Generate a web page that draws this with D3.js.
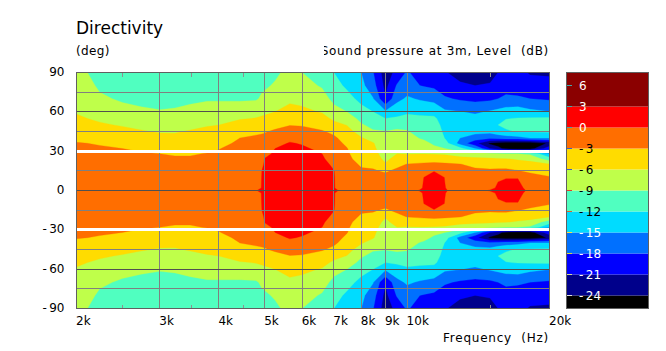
<!DOCTYPE html>
<html><head><meta charset="utf-8">
<script src="https://cdn.jsdelivr.net/npm/d3@7/dist/d3.min.js"></script>
<style>
html,body{margin:0;padding:0;background:#fff}
svg{display:block}
text{font-family:"DejaVu Sans",Verdana,sans-serif;font-size:12px;fill:#000}
</style></head><body>
<svg id="c" width="666" height="351"></svg>
<script>
const title = "Directivity";
const yUnit = "(deg)";
const zTitle = "Sound pressure at 3m, Level  (dB)";
const xTitle = "Frequency  (Hz)";
const xTicks = [2000,3000,4000,5000,6000,7000,8000,9000,10000,20000];
const xTickLabels = ["2k","3k","4k","5k","6k","7k","8k","9k","10k","20k"];
const xMinorTicks = [2500,3500,4500,15000];
const xGrid = [3000,4000,5000,6000,7000,8000,9000,10000];
const yTicks = [90,60,30,0,-30,-60,-90];
const yGridLight = [75,45,15,-15,-45,-75];
const yGridDark = [60,0,-60];
const yWhite = [30,-30];
const thresholds = [-24,-21,-18,-15,-12,-9,-6,-3,0,3];
const bandColors = ["#00008b","#0000ff","#0070ff","#00dcff","#50ffc0","#bfff4a","#ffdc00","#ff6e00","#ff0000","#8b0000"];
const belowColor = "#000000";
const legendTicks = [6,3,0,-3,-6,-9,-12,-15,-18,-21,-24];
const legendTickColors = ["#3fa9a9","#3fa9a9","#4f9f9f","#3f5fc0","#3f5fc0","#e0402a","#e0602a","#ffe040","#d8d840","#d8d8a0","#e0e0e0"];
const legendLabelColors = ["#fff","#fff","#fff","#000","#000","#000","#000","#fff","#fff","#fff","#fff"];
const legendDomain = [7.857,-25.857];

const freqs = [2000,2110,2240,2500,2740,3000,3230,3480,3780,4000,4430,4790,4930,5000,5260,5650,6000,6610,7000,7460,8000,8470,9000,9520,10000,10640,10860,11400,12020,12940,13920,14970,15570,16180,17150,18200,20000];
const angles = [90,80,70,60,55,50,45,40,36,32,28,24,20,15,10,2,0];
// dB per frequency (one column per entry of freqs), one value per entry of angles; lower half mirrors it
const levels = [
[-8,-7.4,-6.8,-6.2,-5.6,-4.8,-4.1,-3.4,-2.9,-2.6,-2.3,-2,-1.8,-1.6,-1.4,-1.2,-1.2],
[-9,-8.2,-7.3,-6.4,-6,-5.2,-4.5,-3.6,-3,-2.6,-2.3,-2,-1.8,-1.5,-1.3,-1.2,-1.2],
[-10,-9.5,-8.5,-7.1,-6.4,-5.7,-4.9,-3.9,-3.2,-2.7,-2.3,-2,-1.8,-1.5,-1.3,-1.1,-1.1],
[-10.6,-10.2,-9.4,-8,-7,-6.2,-5.3,-4.4,-3.7,-3,-2.6,-2.3,-2,-1.7,-1.4,-1.2,-1.2],
[-11,-10.5,-9.8,-8.5,-7.6,-6.7,-5.8,-4.9,-4.1,-3.4,-2.8,-2.4,-2.1,-1.7,-1.5,-1.2,-1.2],
[-11.2,-10.8,-10,-8.8,-7.9,-7,-6.2,-5.3,-4.5,-3.7,-3,-2.6,-2.3,-1.9,-1.6,-1.3,-1.3],
[-11.2,-10.8,-10,-8.6,-7.8,-7,-6.2,-5.4,-4.7,-4,-3.2,-2.7,-2.3,-1.9,-1.6,-1.3,-1.3],
[-11,-10.5,-9.6,-8.2,-7.5,-6.7,-5.8,-5,-4.4,-3.8,-3.2,-2.7,-2.3,-1.9,-1.6,-1.3,-1.3],
[-10.8,-10.2,-9.3,-7.8,-7,-6.2,-5.4,-4.7,-4.1,-3.5,-2.9,-2.5,-2.2,-1.8,-1.5,-1.2,-1.2],
[-10.8,-10.2,-9.3,-7.7,-6.8,-6,-5.2,-4.4,-3.8,-3.1,-2.7,-2.3,-2,-1.7,-1.4,-1.1,-1.1],
[-10.6,-10.2,-9.4,-7.4,-6.2,-5.1,-4,-3,-2.5,-2.1,-1.8,-1.6,-1.4,-1.2,-1,-.8,-.7],
[-10.3,-10,-9.3,-7,-5.9,-4.7,-3.5,-2.6,-2.1,-1.7,-1.4,-1.2,-1.1,-1.1,-1,-.9,-.1],
[-10,-9.5,-8.6,-6.7,-5.6,-4.5,-3.3,-2.5,-2,-1.5,-1.2,-.9,-.5,0,.05,.1,.4],
[-10,-9.4,-8.3,-6.5,-5.5,-4.3,-3.2,-2.4,-1.9,-1.3,-.5,.1,.3,.5,.6,.7,.8],
[-9.5,-8.7,-7.4,-6,-5,-3.8,-2.6,-1.5,-.8,0,.3,.5,.7,.9,1,1.1,1.2],
[-8.2,-7.5,-6.6,-5,-4.1,-3.1,-2,-.7,.2,.6,.9,1.1,1.3,1.5,1.6,1.7,1.8],
[-9,-8,-6.8,-5.4,-4.4,-3.2,-2.1,-1.1,-.2,.4,.7,1,1.2,1.4,1.5,1.6,1.7],
[-10.5,-9.3,-7.8,-6.2,-5.1,-3.9,-2.8,-1.8,-1.2,-.6,0,.3,.5,.7,.8,1,1.1],
[-12,-11,-9.8,-8,-6.5,-5.2,-3.5,-2.6,-2.2,-1.8,-1.3,-.9,-.3,.05,.1,.1,.5],
[-13.8,-12.5,-11,-9,-7.5,-6.1,-5,-4,-3.4,-2.9,-2.6,-2.3,-2,-1.7,-1.5,-1.2,-1],
[-15,-14.2,-12.8,-11,-9.8,-8.7,-7.2,-5.8,-5.4,-5,-4.6,-4.1,-3.3,-2.7,-2.3,-1.8,-1.6],
[-17.8,-16.8,-14.8,-12,-10.9,-9.8,-8.7,-7,-5.8,-5.5,-5.2,-4.6,-3.7,-2.7,-2.2,-1.7,-1.5],
[-22.7,-21.9,-20.7,-14.5,-12,-10.2,-8.9,-8.3,-7.9,-7.5,-7,-6.6,-5.8,-3.4,-2.1,-1.2,-1],
[-20,-17.7,-15.8,-13.2,-11.6,-9.8,-8.6,-7.9,-7.3,-6.6,-6,-5,-3.8,-2.4,-1.8,-1.2,-1],
[-17.6,-16.5,-14.6,-12.4,-11.3,-9.9,-8.8,-8.2,-7.6,-7,-6.1,-4.6,-2.9,-1.9,-1.2,-.8,-.6],
[-19.5,-18,-15.3,-12.6,-11.5,-10.6,-10,-9.1,-8.2,-7.3,-6.1,-4.1,-2.7,-1.8,-.8,-.3,.1],
[-19.6,-18.2,-15.5,-12.7,-11.5,-10.7,-10.1,-9.3,-8.5,-7.7,-6.1,-4.1,-2.6,-1.6,.05,.2,.3],
[-20,-18.6,-15.9,-13,-11.5,-10.8,-10.3,-9.9,-9.3,-8.6,-6.2,-4,-2.5,-.1,.9,1,1.1],
[-20.8,-19.8,-17.6,-14.5,-13.5,-13,-12.6,-12.1,-10.7,-9,-6.4,-4.4,-2.6,-.9,-.05,.05,.15],
[-22,-20.6,-18.4,-14.9,-14,-13.5,-13.5,-15,-16.2,-11,-7.3,-5,-2.9,-2,-1.5,-1,-.7],
[-22.3,-21,-18.8,-15.5,-14,-13.5,-14,-16.5,-20,-15,-7.5,-5.4,-3.8,-2.4,-1.8,-1.2,-.9],
[-21.8,-20.8,-18.6,-14.7,-13.8,-13.5,-14.2,-17.2,-24.6,-21,-7.7,-5.6,-4.1,-2.6,-1.5,-.7,.2],
[-21,-20.1,-18,-14.2,-12.9,-12,-13.2,-16.9,-25.5,-23,-8.2,-5.7,-4.1,-2.5,-.3,.4,.7],
[-20.3,-19.5,-17.3,-13.8,-12.1,-11.3,-12.4,-16.5,-26,-25,-8.8,-5.8,-4.2,-2.4,-.1,.7,1],
[-20.4,-19.8,-17.5,-13.4,-11.9,-11,-11.8,-16,-26,-25.5,-9,-6.3,-4.6,-2.9,-.1,.7,.9],
[-21.2,-20.2,-18,-14.3,-11.7,-10.9,-11.8,-15,-26,-25.5,-9.5,-6.8,-5,-3.5,-2,-.9,-.5],
[-21.5,-19.9,-18.4,-14.9,-11.6,-10.9,-11.6,-14.9,-23.6,-19,-15,-10.5,-5.8,-4.2,-2.8,-1.3,-1]
];

const svg = d3.select("#c");
const x = d3.scaleLog().domain([2000,20000]).range([76.5,549.5]);
const y = d3.scaleLinear().domain([90,-90]).range([72.5,308.5]);
const lg = d3.scaleLinear().domain([6,-24]).range([85.5,295.5]);

const allAngles = angles.concat(angles.slice(0,-1).reverse().map(a=>-a));
const nx = freqs.length, ny = allAngles.length;
const grid = [];
allAngles.forEach((a)=>{
  const r = angles.indexOf(Math.abs(a));
  levels.forEach(col=>grid.push(col[r]));
});
const ix = d3.scaleLinear().domain(d3.range(nx).map(i=>i+.5)).range(freqs.map(f=>x(f))).clamp(true);
const iy = d3.scaleLinear().domain(d3.range(ny).map(i=>i+.5)).range(allAngles.map(a=>y(a))).clamp(true);
const path = d3.geoPath(d3.geoTransform({point(px,py){this.stream.point(ix(px),iy(py));}}));
const contours = d3.contours().size([nx,ny]).thresholds(thresholds)(grid);

const defs = svg.append("defs");
defs.append("clipPath").attr("id","plot").append("rect").attr("x",76.5).attr("y",72.5).attr("width",473).attr("height",236);
defs.append("clipPath").attr("id","ztitle").append("rect").attr("x",324).attr("y",35).attr("width",240).attr("height",30);

const plot = svg.append("g").attr("clip-path","url(#plot)");
plot.append("rect").attr("x",76.5).attr("y",72.5).attr("width",473).attr("height",236).attr("fill",belowColor);
plot.selectAll("path.band").data(contours).join("path").attr("class","band")
  .attr("d",path).attr("fill",(d,i)=>bandColors[i]).attr("stroke",(d,i)=>bandColors[i]).attr("stroke-width",.3);

const g = svg.append("g").attr("shape-rendering","crispEdges");
g.selectAll("line.vg").data(xGrid).join("line").attr("class","vg")
  .attr("x1",d=>Math.floor(x(d))+.5).attr("x2",d=>Math.floor(x(d))+.5).attr("y1",72.5).attr("y2",308.5).attr("stroke","#808080");
g.selectAll("line.hl").data(yGridLight).join("line").attr("class","hl")
  .attr("x1",76.5).attr("x2",549.5).attr("y1",d=>Math.floor(y(d))+.5).attr("y2",d=>Math.floor(y(d))+.5).attr("stroke","#808080");
g.selectAll("line.hd").data(yGridDark).join("line").attr("class","hd")
  .attr("x1",76.5).attr("x2",549.5).attr("y1",d=>Math.floor(y(d))+.5).attr("y2",d=>Math.floor(y(d))+.5).attr("stroke","#505050");
g.selectAll("line.hw").data(yWhite).join("line").attr("class","hw")
  .attr("x1",76.5).attr("x2",549.5).attr("y1",d=>Math.floor(y(d))+.5).attr("y2",d=>Math.floor(y(d))+.5).attr("stroke","#fff").attr("stroke-width",3);
xMinorTicks.forEach(f=>{
  [[72.5,76.5],[304.5,308.5]].forEach(([a,b])=>g.append("line").attr("x1",Math.floor(x(f))+.5).attr("x2",Math.floor(x(f))+.5).attr("y1",a).attr("y2",b).attr("stroke","#909090"));
});
g.append("rect").attr("x",76.5).attr("y",72.5).attr("width",473).attr("height",236).attr("fill","none").attr("stroke","#606060");

// signed labels: the hyphen sits a little apart from the digits
function signed(sel){
  sel.each(function(d){
    const t = d3.select(this);
    if(d<0){
      t.append("tspan").text("-");
      t.append("tspan").attr("dx",2.5).text(Math.abs(d));
    } else t.text(d);
  });
}
svg.selectAll("text.yl").data(yTicks).join("text").attr("class","yl")
  .attr("x",64.5).attr("y",d=>y(d)+3.5).attr("text-anchor","end").call(signed);
svg.selectAll("text.xl").data(xTicks).join("text").attr("class","xl")
  .attr("x",d=>x(d)-.5).attr("y",325).text((d,i)=>xTickLabels[i]);
svg.append("text").attr("x",76).attr("y",34).style("font-size","17px").text(title);
svg.append("text").attr("x",76).attr("y",55).style("letter-spacing",".35px").text(yUnit);
svg.append("g").attr("clip-path","url(#ztitle)").append("text").attr("x",549).attr("y",55).attr("text-anchor","end")
  .style("white-space","pre").style("letter-spacing",".72px").text(zTitle);
svg.append("text").attr("x",549).attr("y",342).attr("text-anchor","end")
  .style("white-space","pre").style("letter-spacing",".78px").text(xTitle);

// legend
const edges = [legendDomain[1]].concat(thresholds,[legendDomain[0]]);
const legendColors = [belowColor].concat(bandColors);
const lgG = svg.append("g");
lgG.selectAll("rect").data(legendColors).join("rect")
  .attr("x",566.5).attr("width",82)
  .attr("y",(d,i)=>lg(edges[i+1])).attr("height",(d,i)=>lg(edges[i])-lg(edges[i+1])).attr("fill",d=>d);
lgG.append("rect").attr("x",566.5).attr("y",72.5).attr("width",82).attr("height",236).attr("fill","none").attr("stroke","#606060").attr("shape-rendering","crispEdges");
lgG.selectAll("line").data(legendTicks).join("line").attr("x1",567).attr("x2",572)
  .attr("y1",d=>lg(d)).attr("y2",d=>lg(d)).attr("stroke",(d,i)=>legendTickColors[i]).attr("shape-rendering","crispEdges");
lgG.selectAll("text").data(legendTicks).join("text").attr("x",579)
  .attr("y",d=>lg(d)+4).style("fill",(d,i)=>legendLabelColors[i]).call(signed);
</script>
</body></html>
